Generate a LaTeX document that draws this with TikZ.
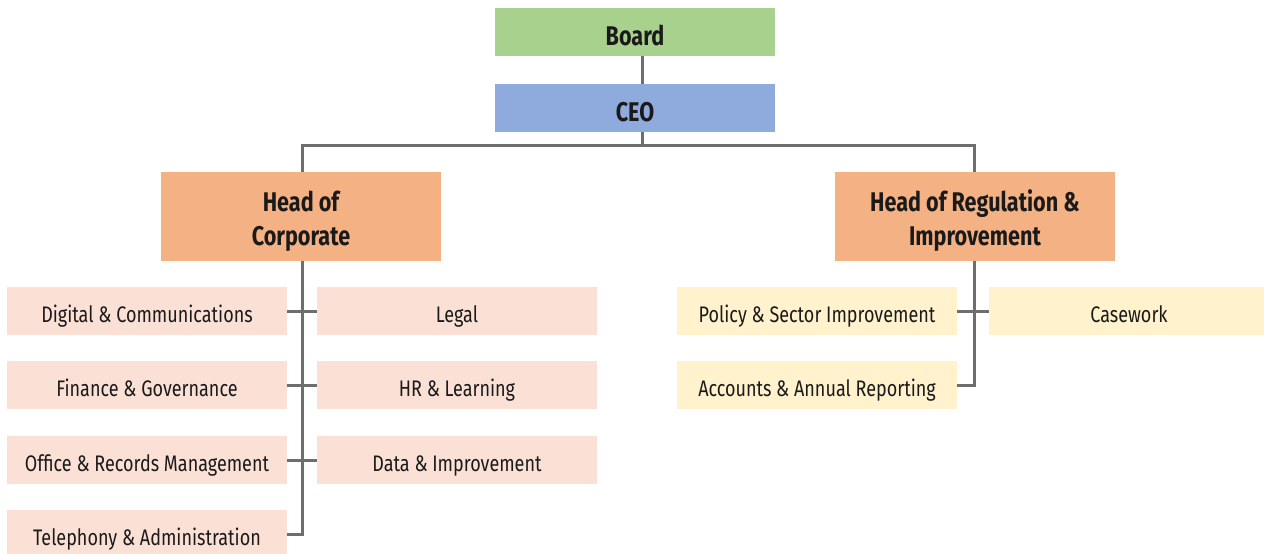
\documentclass[tikz,border=0pt]{standalone}
\usepackage{fontspec}
\setmainfont[FakeStretch=0.8]{Fira Sans}
\definecolor{boardgreen}{HTML}{A9D18E}
\definecolor{ceoblue}{HTML}{8FAADC}
\definecolor{headorange}{HTML}{F4B183}
\definecolor{corppink}{HTML}{FBE0D6}
\definecolor{regyellow}{HTML}{FFF2CC}
\definecolor{linkgray}{HTML}{6E6E6E}
\definecolor{inkdark}{HTML}{1A1A1A}
\tikzset{
  box/.style={rectangle, inner sep=0pt, minimum width=280pt, minimum height=48pt,
    text=inkdark, align=center},
  topbox/.style={box, font=\fontsize{27}{30}\selectfont\bfseries,
    text height=28.6pt, text depth=2pt},
  headbox/.style={box, fill=headorange, minimum height=89pt,
    font=\fontsize{27}{33.5}\selectfont\bfseries,
    text height=57pt, text depth=0pt},
  teambox/.style={box, font=\fontsize{22.5}{26}\selectfont,
    text height=25.6pt, text depth=2pt},
  corpbox/.style={teambox, fill=corppink},
  regbox/.style={teambox, fill=regyellow},
  link/.style={draw=linkgray, line width=3pt}
}
\begin{document}
\begin{tikzpicture}[x=1pt, y=-1pt]
\useasboundingbox (0,0) rectangle (1264,554);
\begin{scope}
\clip (0,0) rectangle (1264,554);
% executive boxes
\node[topbox, fill=boardgreen] (board) at (635,32) {Board};
\node[topbox, fill=ceoblue] (ceo) at (635,108) {CEO};
\node[headbox] (corp) at (301,216.5) {Head of\\Corporate};
\node[headbox] (reg) at (975,216.5) {Head of Regulation \&\\Improvement};
% corporate teams
\node[corpbox] (digital) at (147,311) {Digital \& Communications};
\node[corpbox] (legal) at (457,311) {Legal};
\node[corpbox] (finance) at (147,385) {Finance \& Governance};
\node[corpbox] (hr) at (457,385) {HR \& Learning};
\node[corpbox] (office) at (147,460) {Office \& Records Management};
\node[corpbox] (data) at (457,460) {Data \& Improvement};
\node[corpbox] (tele) at (147,534) {Telephony \& Administration};
% regulation teams
\node[regbox] (policy) at (817,311) {Policy \& Sector Improvement};
\node[regbox] (casework) at (1129,311) {Casework};
\node[regbox] (accounts) at (817,385) {Accounts \& Annual Reporting};
% trunk coordinates
\coordinate (bus) at (642,145);
\coordinate (corptrunk) at (302,534);
\coordinate (regtrunk) at (974,385);
% connectors
\draw[link] ([xshift=7pt]board.south) -- ([xshift=7pt]ceo.north);
\draw[link] ([xshift=7pt]ceo.south) -- (bus);
\draw[link] (corp.north -| corptrunk) |- (bus) -| (reg.north -| regtrunk);
\draw[link] (corp.south -| corptrunk) -- (corptrunk) -- (tele.east |- corptrunk);
\draw[link] (digital.east) -- (legal.west);
\draw[link] (finance.east) -- (hr.west);
\draw[link] (office.east) -- (data.west);
\draw[link] (reg.south -| regtrunk) -- (regtrunk) -- (accounts.east |- regtrunk);
\draw[link] (policy.east) -- (casework.west);
\end{scope}
\end{tikzpicture}
\end{document}
